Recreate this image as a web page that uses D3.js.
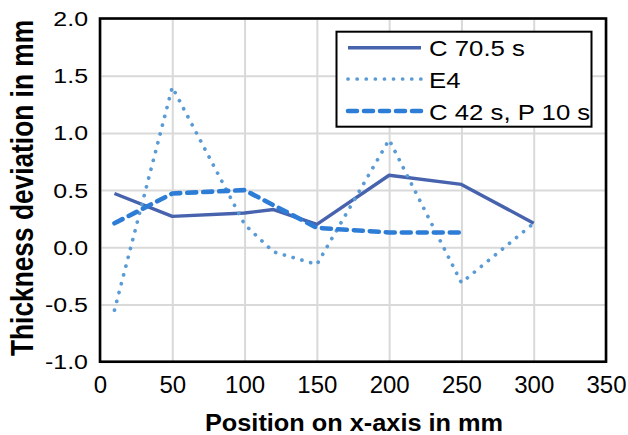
<!DOCTYPE html>
<html><head><meta charset="utf-8">
<script src="https://cdn.jsdelivr.net/npm/d3@7"></script>
<style>body{margin:0;background:#fff;} text{font-family:"Liberation Sans",Arial,sans-serif;fill:#000;}</style>
</head><body><svg id="c" width="628" height="435"></svg>
<script>
// Data
const seriesNames = ["C 70.5 s", "E4", "C 42 s, P 10 s"];
const xSolid = [10, 50, 100, 120, 150, 200, 250, 300];
const ySolid = [0.47, 0.27, 0.30, 0.33, 0.20, 0.63, 0.55, 0.21];
const xDotted = [10, 50, 100, 120, 150, 200, 250, 300];
const yDotted = [-0.55, 1.40, 0.20, -0.04, -0.15, 0.94, -0.31, 0.21];
const xDashed = [10, 50, 100, 150, 200, 250];
const yDashed = [0.21, 0.47, 0.50, 0.17, 0.13, 0.13];
const xTicks = [0, 50, 100, 150, 200, 250, 300, 350];
const yTicks = [-1.0, -0.5, 0.0, 0.5, 1.0, 1.5, 2.0];
const xTitle = "Position on x-axis in mm";
const yTitle = "Thickness deviation in mm";

const svg = d3.select("#c");
const L = 100, R = 606, T = 18.5, B = 361.7;
const x = d3.scaleLinear().domain([0, 350]).range([L, R]);
const y = d3.scaleLinear().domain([-1, 2]).range([B, T]);

// gridlines
const gx = svg.append("g").attr("transform", `translate(0,${B})`)
  .call(d3.axisBottom(x).tickValues(xTicks).tickSize(-(B - T)).tickFormat(""));
gx.select(".domain").remove();
gx.selectAll("line").attr("stroke", "#d9d9d9").attr("stroke-width", 2);
const gy = svg.append("g").attr("transform", `translate(${L},0)`)
  .call(d3.axisLeft(y).tickValues(yTicks).tickSize(-(R - L)).tickFormat(""));
gy.select(".domain").remove();
gy.selectAll("line").attr("stroke", "#d9d9d9").attr("stroke-width", 2);

// tick labels
const fmt = v => d3.format(".1f")(v).replace("\u2212", "-");
const ax = svg.append("g").attr("transform", `translate(0,${B})`)
  .call(d3.axisBottom(x).tickValues(xTicks).tickSize(0).tickFormat(d3.format("d")));
ax.select(".domain").remove();
ax.selectAll("text").attr("y", 31.5).attr("dy", 0).style("font-size", "24px")
  .style("font-family", '"Liberation Sans",Arial,sans-serif');
const ay = svg.append("g").attr("transform", `translate(${L},0)`)
  .call(d3.axisLeft(y).tickValues(yTicks).tickSize(0).tickFormat(fmt));
ay.select(".domain").remove();
ay.selectAll("text").attr("x", 0).attr("dy", "0.36em")
  .attr("transform", "translate(-12,0) scale(1.28,1)")
  .style("font-size", "19.5px").style("font-family", '"Liberation Sans",Arial,sans-serif');

// frame
svg.append("rect").attr("x", L).attr("y", T).attr("width", R - L).attr("height", B - T)
  .attr("fill", "none").attr("stroke", "#000").attr("stroke-width", 2.6);

// series
const styles = [
  {color: "#4763ae", width: 3.4, dash: null, cap: "butt"},
  {color: "#5b9bd5", width: 3.7, dash: "0.1,9", cap: "round"},
  {color: "#2d7dd6", width: 4.6, dash: "9,7", cap: "round"}
];
const data = [
  xSolid.map((v, i) => [v, ySolid[i]]),
  xDotted.map((v, i) => [v, yDotted[i]]),
  xDashed.map((v, i) => [v, yDashed[i]])
];
const line = d3.line().x(d => x(d[0])).y(d => y(d[1]));
data.forEach((d, i) => {
  const s = styles[i];
  const p = svg.append("path").datum(d).attr("d", line).attr("fill", "none")
    .attr("stroke", s.color).attr("stroke-width", s.width)
    .attr("stroke-linejoin", "round").attr("stroke-linecap", s.cap);
  if (s.dash) p.attr("stroke-dasharray", s.dash);
});

// legend
const lg = svg.append("g");
lg.append("rect").attr("x", 336.5).attr("y", 31.7).attr("width", 255).attr("height", 95)
  .attr("fill", "#fff").attr("stroke", "#000").attr("stroke-width", 2);
const rows = [47.7, 79, 111];
seriesNames.forEach((n, i) => {
  const s = styles[i];
  const p = lg.append("line").attr("x1", 348).attr("x2", 421).attr("y1", rows[i]).attr("y2", rows[i])
    .attr("stroke", s.color).attr("stroke-width", s.width).attr("stroke-linecap", s.cap);
  if (s.dash) p.attr("stroke-dasharray", s.dash);
  lg.append("text").attr("transform", `translate(429,${rows[i] + 8.6}) scale(1.12,1)`)
    .style("font-size", "23px").text(n);
});

// titles
svg.append("text").attr("transform", "translate(354,431) scale(1.055,1)")
  .attr("text-anchor", "middle").style("font-size", "24px").style("font-weight", "bold").text(xTitle);
svg.append("text").attr("transform", "translate(33,188) scale(1.22,1) rotate(-90)")
  .attr("text-anchor", "middle").style("font-size", "26.3px").style("font-weight", "bold").text(yTitle);
</script></body></html>
